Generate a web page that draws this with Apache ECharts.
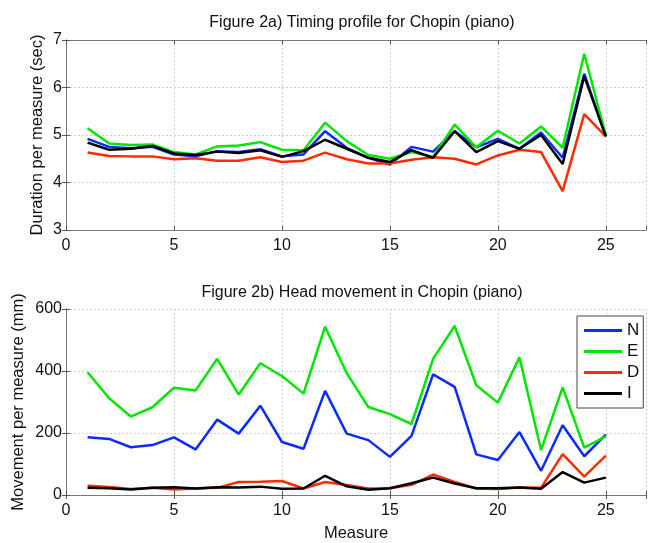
<!DOCTYPE html>
<html lang="en">
<head>
    <meta charset="UTF-8">
    <title>Chopin timing and head movement</title>
    <script src="https://cdn.jsdelivr.net/npm/echarts@6/dist/echarts.min.js"></script>
    <style>
        body{
            margin: 0;
            background: #fff;
        }
        #main{
            width: 649px;
            height: 543px;
        }
    </style>
</head>
<body>
<div id="main"></div>
<script>
    // measure numbers (x)
    var measures = [1, 2, 3, 4, 5, 6, 7, 8, 9, 10, 11, 12, 13, 14, 15, 16, 17, 18, 19, 20, 21, 22, 23, 24, 25];

    // Figure 2a: duration per measure (sec)
    var durN = [4.92, 4.75, 4.72, 4.75, 4.59, 4.55, 4.66, 4.64, 4.70, 4.55, 4.59, 5.08, 4.73, 4.52, 4.38, 4.75, 4.65, 5.08, 4.74, 4.92, 4.71, 5.05, 4.52, 6.29, 4.97];
    var durE = [5.14, 4.82, 4.79, 4.80, 4.64, 4.59, 4.76, 4.78, 4.85, 4.69, 4.68, 5.26, 4.87, 4.58, 4.50, 4.64, 4.54, 5.22, 4.74, 5.09, 4.82, 5.18, 4.73, 6.71, 4.99];
    var durD = [4.63, 4.56, 4.55, 4.55, 4.49, 4.51, 4.46, 4.46, 4.53, 4.43, 4.46, 4.63, 4.49, 4.40, 4.40, 4.48, 4.53, 4.50, 4.38, 4.57, 4.69, 4.64, 3.82, 5.44, 4.97];
    var durI = [4.84, 4.69, 4.71, 4.77, 4.61, 4.58, 4.65, 4.62, 4.68, 4.54, 4.66, 4.90, 4.71, 4.52, 4.43, 4.68, 4.52, 5.08, 4.64, 4.87, 4.71, 5.00, 4.39, 6.24, 4.97];

    // Figure 2b: movement per measure (mm)
    var movN = [186, 181, 154, 161, 186, 147, 243, 198, 288, 171, 149, 336, 198, 177, 123, 191, 389, 349, 131, 113, 203, 78, 225, 125, 195];
    var movE = [396, 312, 253, 283, 346, 337, 439, 324, 425, 384, 327, 543, 393, 284, 261, 229, 439, 545, 354, 298, 444, 145, 347, 153, 189];
    var movD = [30, 26, 19, 23, 18, 21, 23, 42, 43, 45, 21, 42, 32, 21, 22, 33, 66, 42, 21, 19, 24, 23, 132, 59, 127];
    var movI = [23, 22, 18, 23, 25, 21, 25, 24, 27, 20, 21, 62, 28, 17, 22, 38, 56, 37, 22, 22, 24, 20, 74, 40, 56];

    var names = ['N', 'E', 'D', 'I'];
    var colors = ['#0a2bff', '#00e600', '#ff2a00', '#000000'];

    var font = 'Liberation Sans, Arial, Helvetica, sans-serif';
    var xMax = 26.86;

    function pairs(vals) {
        return measures.map(function (m, i) { return [m, vals[i]]; });
    }

    function xAx(grid, pos, showLabel, nameText) {
        return {
            type: 'value', gridIndex: grid, position: pos,
            min: 0, max: xMax, interval: 5,
            name: nameText || '', nameLocation: 'middle', nameGap: 30,
            nameMoveOverlap: false,
            nameTextStyle: {fontFamily: font, fontSize: 16.5, color: '#111'},
            axisLine: {show: true, lineStyle: {color: '#777', width: 1}},
            axisTick: {show: true, inside: true, length: 4, lineStyle: {color: '#555'}},
            axisLabel: {
                show: showLabel, margin: 8, fontFamily: font, fontSize: 16, color: '#111',
                formatter: function (v) { return v % 5 === 0 ? String(v) : ''; }
            },
            splitLine: {show: pos === 'bottom', lineStyle: {color: '#cfcfcf', type: [2, 2]}}
        };
    }

    function yAx(grid, pos, min, max, step, showLabel, nameText, gap) {
        return {
            type: 'value', gridIndex: grid, position: pos,
            min: min, max: max, interval: step,
            name: nameText || '', nameLocation: 'middle', nameGap: gap || 20,
            nameMoveOverlap: false,
            nameTextStyle: {fontFamily: font, fontSize: 16.5, color: '#111'},
            axisLine: {show: true, lineStyle: {color: '#777', width: 1}},
            axisTick: {show: true, inside: true, length: 4, lineStyle: {color: '#555'}},
            axisLabel: {show: showLabel, margin: 4, fontFamily: font, fontSize: 16, color: '#111'},
            splitLine: {show: pos === 'left', lineStyle: {color: '#cfcfcf', type: [2, 2]}}
        };
    }

    function line(name, color, grid, vals) {
        return {
            name: name, type: 'line',
            xAxisIndex: grid * 2, yAxisIndex: grid * 2,
            data: pairs(vals),
            showSymbol: false, symbol: 'none',
            lineStyle: {color: color, width: 2.5},
            itemStyle: {color: color},
            animation: false
        };
    }

    var chartDom = document.getElementById('main');
    var myChart = echarts.init(chartDom, null, {renderer: 'canvas'});
    var option;

    option = {
        backgroundColor: '#fff',
        animation: false,
        title: [
            {text: 'Figure 2a) Timing profile for Chopin (piano)', left: 357, top: 10, textAlign: 'center',
                textStyle: {fontFamily: font, fontSize: 16, fontWeight: 'normal', color: '#111'}},
            {text: 'Figure 2b) Head movement in Chopin (piano)', left: 357, top: 280, textAlign: 'center',
                textStyle: {fontFamily: font, fontSize: 16, fontWeight: 'normal', color: '#111'}}
        ],
        legend: {
            data: names,
            orient: 'vertical',
            left: 577, top: 316,
            padding: [6, 4, 6, 7],
            itemWidth: 38, itemHeight: 3, itemGap: 4,
            icon: 'rect',
            backgroundColor: '#fff',
            borderColor: '#444', borderWidth: 1,
            textStyle: {fontFamily: font, fontSize: 17, color: '#111'}
        },
        grid: [
            {left: 66, top: 40, width: 581, height: 190},
            {left: 66, top: 309, width: 581, height: 190}
        ],
        xAxis: [
            xAx(0, 'bottom', true),
            xAx(0, 'top', false),
            xAx(1, 'bottom', true, 'Measure'),
            xAx(1, 'top', false)
        ],
        yAxis: [
            yAx(0, 'left', 3, 7, 1, true, 'Duration per measure (sec)', 20),
            yAx(0, 'right', 3, 7, 1, false),
            yAx(1, 'left', 0, 600, 200, true, 'Movement per measure (mm)', 39),
            yAx(1, 'right', 0, 600, 200, false)
        ],
        series: [
            line('N', colors[0], 0, durN),
            line('E', colors[1], 0, durE),
            line('D', colors[2], 0, durD),
            line('I', colors[3], 0, durI),
            line('N', colors[0], 1, movN),
            line('E', colors[1], 1, movE),
            line('D', colors[2], 1, movD),
            line('I', colors[3], 1, movI)
        ]
    };

    option && myChart.setOption(option);
</script>
</body>
</html>
